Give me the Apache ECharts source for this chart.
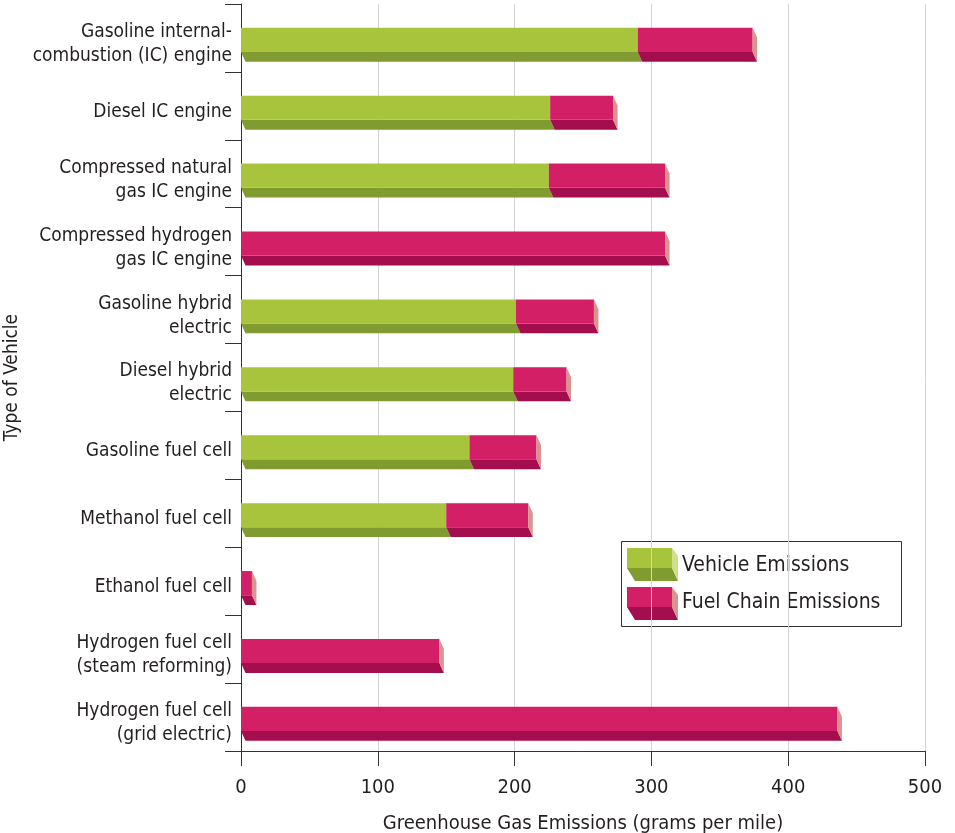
<!DOCTYPE html>
<html>
<head>
<meta charset="utf-8">
<script src="https://cdn.jsdelivr.net/npm/echarts@6/dist/echarts.min.js"></script>
<style>
  html, body { margin: 0; padding: 0; background: #ffffff; }
  #chart { width: 955px; height: 833px; }
</style>
</head>
<body>
<div id="chart"></div>
<script>
// Vehicle types, top to bottom
const vehicleTypes = [
  'Gasoline internal-\ncombustion (IC) engine',
  'Diesel IC engine',
  'Compressed natural\ngas IC engine',
  'Compressed hydrogen\ngas IC engine',
  'Gasoline hybrid\nelectric',
  'Diesel hybrid\nelectric',
  'Gasoline fuel cell',
  'Methanol fuel cell',
  'Ethanol fuel cell',
  'Hydrogen fuel cell\n(steam reforming)',
  'Hydrogen fuel cell\n(grid electric)'
];

// Greenhouse gas emissions, grams per mile
const vehicleEmissions   = [290, 226, 225, 0, 201, 199, 167, 150, 0, 0, 0];
const fuelChainEmissions = [84, 46, 85, 310, 57, 39, 49, 60, 8, 145, 436];

const seriesNames = ['Vehicle Emissions', 'Fuel Chain Emissions'];

// x axis scale
const xMin = 0, xMax = 500, xStep = 100;

const FONT = "'DejaVu Sans Condensed', 'Liberation Sans Narrow', 'Roboto', sans-serif";
const TEXT = '#231f20';

// face colours of the extruded bars: front, underside, end cap
const greenFaces = { front: '#a7c43c', bottom: '#809b2f', side: '#cfe08a' };
const pinkFaces  = { front: '#d31f65', bottom: '#a50e4e', side: '#da948f' };

// segments as [category index, start, end]
const vehicleSegments = vehicleEmissions.map((v, i) => [i, 0, v]);
const fuelSegments = fuelChainEmissions.map((v, i) => [i, vehicleEmissions[i], vehicleEmissions[i] + v]);

function boxRenderer(faces, withCap) {
  return function (params, api) {
    const cat = api.value(0);
    const start = api.value(1);
    const end = api.value(2);
    if (!(end > start)) return;
    const p0 = api.coord([start, cat]);
    const p1 = api.coord([end, cat]);
    const band = api.size([0, 1])[1];
    const yTop = p0[1] - 0.15 * band;
    const frontH = 0.355 * band;
    const depthH = 0.145 * band;
    const dx = 4.5;
    const x0 = p0[0], x1 = p1[0];
    const yMid = yTop + frontH, yBot = yMid + depthH;
    const children = [
      {
        type: 'polygon',
        shape: { points: [[x0, yMid], [x1, yMid], [x1 + dx, yBot], [x0 + dx, yBot]] },
        style: { fill: faces.bottom }
      },
      {
        type: 'rect',
        shape: { x: x0, y: yTop, width: x1 - x0, height: frontH },
        style: { fill: faces.front }
      }
    ];
    if (withCap) {
      children.push({
        type: 'polygon',
        shape: { points: [[x1, yTop], [x1 + dx, yTop + depthH], [x1 + dx, yBot], [x1, yMid]] },
        style: { fill: faces.side }
      });
    }
    return { type: 'group', children: children };
  };
}

// legend swatch: small extruded box
function legendSwatch(x, y, faces) {
  const w = 45, h = 20, dx = 6, dy = 13;
  return [
    { type: 'polygon', shape: { points: [[x, y + h], [x + w, y + h], [x + w + dx, y + h + dy], [x + 8, y + h + dy]] }, style: { fill: faces.bottom } },
    { type: 'polygon', shape: { points: [[x + w, y], [x + w + dx, y + 8], [x + w + dx, y + h + dy], [x + w, y + h]] }, style: { fill: faces.side } },
    { type: 'rect', shape: { x: x, y: y, width: w, height: h }, style: { fill: faces.front } }
  ];
}

// category label: a short spacer line on top nudges the text block a little lower
function categoryLabel(value) {
  return '{gap| }\n' + value.split('\n').map(line => '{t|' + line + '}').join('\n');
}

const chart = echarts.init(document.getElementById('chart'), null, { renderer: 'canvas' });

chart.setOption({
  backgroundColor: '#ffffff',
  animation: false,
  grid: { left: 241, right: 30, top: 4, bottom: 82, containLabel: false, outerBoundsMode: 'none' },
  xAxis: {
    type: 'value',
    min: xMin, max: xMax, interval: xStep,
    name: 'Greenhouse Gas Emissions (grams per mile)',
    nameLocation: 'middle',
    nameGap: 63,
    nameTextStyle: { fontFamily: FONT, fontSize: 20, color: TEXT },
    axisLine: { show: true, lineStyle: { color: '#333', width: 1 } },
    axisTick: { show: true, length: 15, lineStyle: { color: '#333' } },
    axisLabel: { margin: 27, fontFamily: FONT, fontSize: 20, color: TEXT },
    splitLine: { show: true, lineStyle: { color: '#d4d4d4', width: 1 } }
  },
  yAxis: {
    type: 'category',
    data: vehicleTypes,
    inverse: true,
    name: 'Type of Vehicle',
    nameLocation: 'middle',
    nameGap: 207,
    nameRotate: 90,
    nameTextStyle: { fontFamily: FONT, fontSize: 19, color: TEXT },
    axisLine: { show: true, lineStyle: { color: '#333', width: 1 } },
    axisTick: { show: true, length: 16, lineStyle: { color: '#333' } },
    axisLabel: {
      margin: 9,
      align: 'right',
      formatter: categoryLabel,
      rich: {
        gap: { fontSize: 10, lineHeight: 12, align: 'right' },
        t: { fontFamily: FONT, fontSize: 19, lineHeight: 24, color: TEXT, align: 'right' }
      }
    },
    splitLine: { show: false }
  },
  series: [
    {
      name: seriesNames[0],
      type: 'custom',
      renderItem: boxRenderer(greenFaces, false),
      encode: { x: [1, 2], y: 0 },
      data: vehicleSegments,
      z: 3
    },
    {
      name: seriesNames[1],
      type: 'custom',
      renderItem: boxRenderer(pinkFaces, true),
      encode: { x: [1, 2], y: 0 },
      data: fuelSegments,
      z: 3
    }
  ],
  graphic: [
    {
      type: 'group',
      z: 10,
      children: [
        { type: 'rect', shape: { x: 621.5, y: 541.5, width: 280, height: 85 }, style: { fill: '#ffffff', stroke: '#333', lineWidth: 1 } },
        ...legendSwatch(627, 548, greenFaces),
        ...legendSwatch(627, 587, pinkFaces),
        { type: 'text', style: { x: 682, y: 566, text: seriesNames[0], font: '21px ' + FONT, fill: TEXT, verticalAlign: 'middle' } },
        { type: 'text', style: { x: 682, y: 603, text: seriesNames[1], font: '21px ' + FONT, fill: TEXT, verticalAlign: 'middle' } }
      ]
    }
  ]
});
</script>
</body>
</html>
